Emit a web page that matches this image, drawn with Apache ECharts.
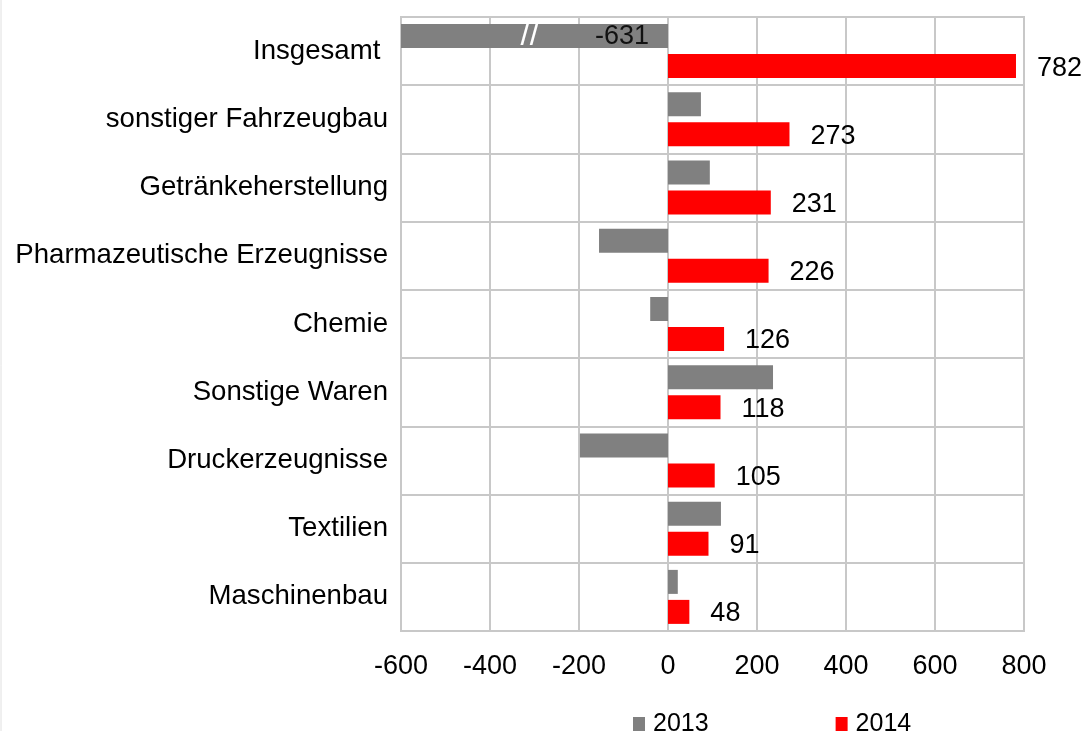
<!DOCTYPE html>
<html>
<head>
<meta charset="utf-8">
<script src="https://cdn.jsdelivr.net/npm/echarts@6/dist/echarts.min.js"></script>
<style>
  html, body { margin: 0; padding: 0; background: #fff; }
  #chart { width: 1084px; height: 731px; }
</style>
</head>
<body>
<div id="chart"></div>
<script>
var categories = ['Insgesamt ', 'sonstiger Fahrzeugbau', 'Getränkeherstellung', 'Pharmazeutische Erzeugnisse', 'Chemie', 'Sonstige Waren', 'Druckerzeugnisse', 'Textilien', 'Maschinenbau'];
var values2013 = [-631, 74, 94, -155, -40, 236, -198, 119, 22];
var values2014 = [782, 273, 231, 226, 126, 118, 105, 91, 48];
var years = ['2013', '2014'];

var font = 'Liberation Sans, Arial, sans-serif';
var gridColor = '#c8c8c8';

var chart = echarts.init(document.getElementById('chart'));

// first 2013 bar runs past the axis min, so it gets the break marks and its value
var data2013 = values2013.map(function (v, i) {
  if (i === 0) {
    return {
      value: v,
      label: {
        show: true,
        position: 'insideRight',
        distance: 19,
        formatter: '{s|//}{g|}{v|' + v + '}',
        rich: {
          s: { color: '#fff', fontSize: 33, fontFamily: font },
          g: { width: 56 },
          v: { color: '#111', fontSize: 27, fontFamily: font }
        }
      }
    };
  }
  return v;
});

var option = {
  animation: false,
  backgroundColor: '#fff',
  textStyle: { fontFamily: font },
  graphic: [{
    type: 'line',
    shape: { x1: 1, y1: 0, x2: 1, y2: 731 },
    style: { stroke: '#e0e0e0', lineWidth: 1 }
  }],
  legend: {
    data: years,
    left: 633,
    top: 712,
    padding: 0,
    itemWidth: 12,
    itemHeight: 15,
    itemGap: 127,
    icon: 'rect',
    textStyle: { fontSize: 25, color: '#000', fontFamily: font, padding: [0, 0, 0, 3] }
  },
  grid: {
    left: 401,
    right: 60,
    top: 17,
    bottom: 100,
    show: true,
    borderColor: gridColor,
    borderWidth: 2
  },
  xAxis: {
    type: 'value',
    min: -600,
    max: 800,
    interval: 200,
    axisLine: { show: false },
    axisTick: { show: false },
    splitLine: { lineStyle: { color: gridColor, width: 2 } },
    axisLabel: { fontSize: 27, color: '#000', margin: 22, fontFamily: font }
  },
  yAxis: {
    type: 'category',
    data: categories,
    inverse: true,
    axisLine: { show: false },
    axisTick: { show: false },
    splitLine: { show: true, lineStyle: { color: gridColor, width: 2 } },
    axisLabel: { fontSize: 27.6, color: '#000', margin: 13, fontFamily: font }
  },
  series: [
    {
      name: years[0],
      type: 'bar',
      data: data2013,
      barWidth: 24,
      barGap: '25%',
      clip: true,
      itemStyle: { color: '#808080' }
    },
    {
      name: years[1],
      type: 'bar',
      data: values2014,
      barWidth: 24,
      barGap: '25%',
      itemStyle: { color: '#ff0000' },
      label: {
        show: true,
        position: 'right',
        distance: 21,
        offset: [0, 2],
        fontSize: 27,
        color: '#000',
        fontFamily: font
      }
    }
  ]
};

chart.setOption(option);
</script>
</body>
</html>
